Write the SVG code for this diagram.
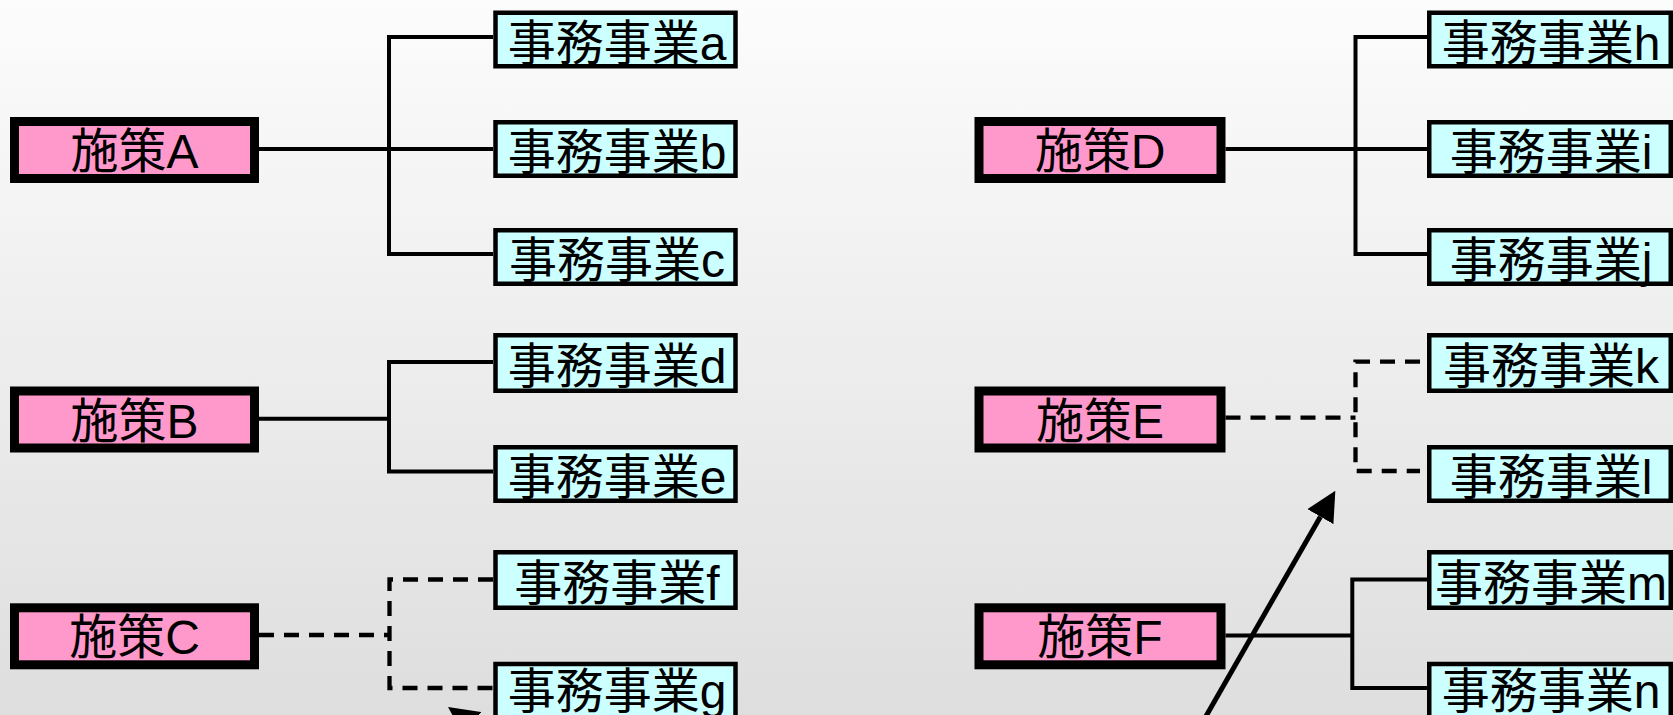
<svg xmlns="http://www.w3.org/2000/svg" width="1673" height="715" viewBox="0 0 1673 715">
<defs>
<linearGradient id="bg" x1="0" y1="0" x2="0" y2="1">
<stop offset="0" stop-color="#fcfcfc"/>
<stop offset="1" stop-color="#dedede"/>
</linearGradient>
<marker id="ah" markerUnits="userSpaceOnUse" markerWidth="30" markerHeight="30" refX="0" refY="15" orient="auto" viewBox="0 0 30 30">
<path d="M0,0 L30,15 L0,30 z" fill="#000"/>
</marker>
<style>
.pol{fill:#ff99cc;stroke:#000;stroke-width:9}
.task{fill:#ccffff;stroke:#000;stroke-width:4.5}
.t{font-family:"Liberation Sans","Noto Sans CJK JP",sans-serif;font-size:48px;fill:#000;text-anchor:middle}
.solid{fill:none;stroke:#000;stroke-width:4}
.dash{fill:none;stroke:#000;stroke-width:4.3;stroke-dasharray:15 10}
.arr{fill:none;stroke:#000;stroke-width:5;marker-end:url(#ah)}
</style>
</defs>
<rect x="0" y="0" width="1673" height="715" fill="url(#bg)"/>

<g id="connectors">
<path class="solid" d="M259,149 H493 M493,37 H389 V254 H493"/>
<path class="solid" d="M259,418.7 H389 M493,362 H389 V471.5 H493"/>
<path class="dash" d="M259,635 H389.5"/>
<path class="dash" d="M493,579.5 H389.5 V688 H493"/>
<path class="solid" d="M1225.5,149 H1427 M1427,37 H1355.5 V254 H1427"/>
<path class="dash" d="M1225.5,417.7 H1355.5"/>
<path class="dash" d="M1420,361.7 H1355.5 V471 H1420"/>
<path class="solid" d="M1225.5,635.5 H1352.3 M1427,579.5 H1352.3 V688 H1427"/>
<path class="arr" d="M1196.7,732.4 L1320.4,516.7"/>
<path class="arr" d="M650,848.5 L472.6,724.2"/>
</g>

<g id="policyA"><rect class="pol" x="14.5" y="121.5" width="240" height="57"/><text class="t" x="134.5" y="168">施策A</text></g>
<g id="policyB"><rect class="pol" x="14.5" y="391" width="240" height="57"/><text class="t" x="134.5" y="437.5">施策B</text></g>
<g id="policyC"><rect class="pol" x="14.5" y="607.8" width="240" height="57"/><text class="t" x="134.5" y="654.3">施策C</text></g>
<g id="policyD"><rect class="pol" x="979" y="121.5" width="242" height="57"/><text class="t" x="1100" y="168">施策D</text></g>
<g id="policyE"><rect class="pol" x="979" y="391" width="242" height="57"/><text class="t" x="1100" y="437.5">施策E</text></g>
<g id="policyF"><rect class="pol" x="979" y="607.8" width="242" height="57"/><text class="t" x="1100" y="654.3">施策F</text></g>

<g id="taskA"><rect class="task" x="495.5" y="12.75" width="240" height="53.5"/><text class="t" x="617" y="59.5">事務事業a</text></g>
<g id="taskB"><rect class="task" x="495.5" y="122.25" width="240" height="53.5"/><text class="t" x="617" y="169">事務事業b</text></g>
<g id="taskC"><rect class="task" x="495.5" y="230.25" width="240" height="53.5"/><text class="t" x="617" y="277">事務事業c</text></g>
<g id="taskD"><rect class="task" x="495.5" y="335.25" width="240" height="55.5"/><text class="t" x="617" y="383">事務事業d</text></g>
<g id="taskE"><rect class="task" x="495.5" y="447.25" width="240" height="53.5"/><text class="t" x="617" y="493.5">事務事業e</text></g>
<g id="taskF"><rect class="task" x="495.5" y="552.25" width="240" height="55.5"/><text class="t" x="617" y="600">事務事業f</text></g>
<g id="taskG"><rect class="task" x="495.5" y="664" width="240" height="56"/><text class="t" x="617" y="707.5">事務事業g</text></g>

<g id="taskH"><rect class="task" x="1429.25" y="12.75" width="241.5" height="53.5"/><text class="t" x="1551" y="59.5">事務事業h</text></g>
<g id="taskI"><rect class="task" x="1429.25" y="122.25" width="241.5" height="53.5"/><text class="t" x="1551" y="169">事務事業i</text></g>
<g id="taskJ"><rect class="task" x="1429.25" y="230.25" width="241.5" height="53.5"/><text class="t" x="1551" y="277">事務事業j</text></g>
<g id="taskK"><rect class="task" x="1429.25" y="335.25" width="241.5" height="55.5"/><text class="t" x="1551" y="383">事務事業k</text></g>
<g id="taskL"><rect class="task" x="1429.25" y="447.25" width="241.5" height="53.5"/><text class="t" x="1551" y="493.5">事務事業l</text></g>
<g id="taskM"><rect class="task" x="1429.25" y="552.25" width="241.5" height="55.5"/><text class="t" x="1551" y="600">事務事業m</text></g>
<g id="taskN"><rect class="task" x="1429.25" y="664" width="241.5" height="56"/><text class="t" x="1551" y="707.5">事務事業n</text></g>
</svg>
